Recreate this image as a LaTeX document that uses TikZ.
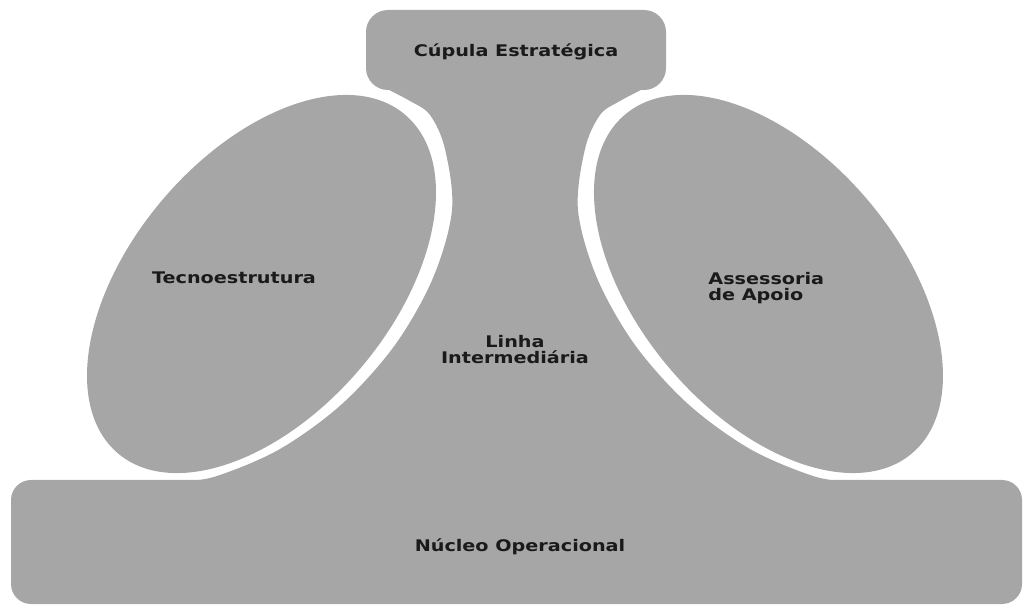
\documentclass[tikz,border=0pt]{standalone}
\usepackage{fontspec}
\newfontfamily\labelfont[FakeStretch=1.2]{DejaVu Sans Bold}
\definecolor{partgray}{HTML}{A6A6A6}
\definecolor{inkgray}{HTML}{1A1A1A}

\begin{document}
\begin{tikzpicture}[x=0.5pt, y=0.5pt,
  part/.style={fill=partgray},
  tag/.style={font=\labelfont\fontsize{8}{8}\selectfont, text=inkgray, inner sep=0pt}]
  \useasboundingbox (0,0) rectangle (1024,606);

  % middle line, its sides keep a white gap to the ellipses
  \fill[part] plot[smooth, tension=0.55] coordinates {(385,518) (410,505) (430,491) (445,457)
      (452,396) (433,328) (395,261) (342,202) (280,157) (217,130) (180,124)}
    -- (180,111) -- (850,111)
    -- plot[smooth, tension=0.55] coordinates {(850,124) (813,130) (750,157) (688,202)
      (635,261) (597,328) (578,396) (585,457) (600,491) (620,505) (645,518)}
    -- cycle;

  \coordinate (tecno) at (261.5,322);
  \coordinate (apoio) at (768.5,322);
  \fill[part, rotate around={49.7:(tecno)}] (tecno) ellipse (222 and 130);
  \fill[part, rotate around={-49.7:(apoio)}] (apoio) ellipse (222 and 130);

  \fill[part, rounded corners=11pt] (366,516) rectangle (666,596);
  \fill[part, rounded corners=10pt] (11,2) rectangle (1022,126);

  \node[tag] (cupula) at (516,554) {Cúpula Estratégica};
  \node[tag] (tecnoestrutura) at (234,328) {Tecnoestrutura};
  \node[tag, align=left, anchor=west] (assessoria) at (708,318) {Assessoria\\de Apoio};
  \node[tag, align=center] (linha) at (515,256) {Linha\\Intermediária};
  \node[tag] (nucleo) at (520,59) {Núcleo Operacional};
\end{tikzpicture}
\end{document}
